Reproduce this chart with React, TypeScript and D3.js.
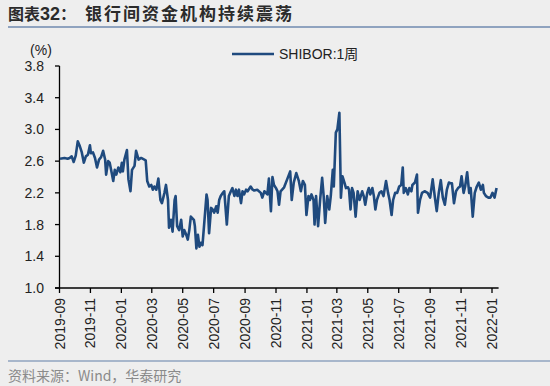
import React from "react";
import * as d3 from "d3";

const TITLE_A = "图表32：";
const TITLE_B = "银行间资金机构持续震荡";
const SOURCE = "资料来源：Wind，华泰研究";
const SERIES_NAME = "SHIBOR:1周";
const UNIT = "(%)";
const Y_TICKS = [1.0, 1.4, 1.8, 2.2, 2.6, 3.0, 3.4, 3.8];

const dates: string[] = [
  "2019-09-02","2019-09-11","2019-09-17","2019-09-21","2019-09-25","2019-09-29","2019-10-03","2019-10-07","2019-10-11","2019-10-15",
  "2019-10-19","2019-10-23","2019-10-27","2019-10-31","2019-11-02","2019-11-06","2019-11-10","2019-11-14","2019-11-18","2019-11-22",
  "2019-11-26","2019-11-30","2019-12-02","2019-12-06","2019-12-09","2019-12-13","2019-12-16","2019-12-19","2019-12-22","2019-12-26",
  "2019-12-30","2020-01-02","2020-01-04","2020-01-07","2020-01-12","2020-01-15","2020-01-19","2020-01-22","2020-01-27","2020-01-30",
  "2020-02-04","2020-02-09","2020-02-18","2020-02-21","2020-02-25","2020-02-29","2020-03-03","2020-03-06","2020-03-10","2020-03-14",
  "2020-03-18","2020-03-21","2020-03-26","2020-03-29","2020-04-02","2020-04-04","2020-04-08","2020-04-11","2020-04-15","2020-04-17",
  "2020-04-20","2020-04-24","2020-04-28","2020-05-01","2020-05-04","2020-05-08","2020-05-11","2020-05-14","2020-05-17","2020-05-23",
  "2020-05-25","2020-05-28","2020-05-31","2020-06-03","2020-06-06","2020-06-09","2020-06-13","2020-06-17","2020-06-19","2020-06-22",
  "2020-06-26","2020-06-29","2020-07-02","2020-07-06","2020-07-09","2020-07-12","2020-07-15","2020-07-19","2020-07-22","2020-07-27",
  "2020-07-31","2020-08-04","2020-08-07","2020-08-11","2020-08-14","2020-08-17","2020-08-20","2020-08-24","2020-08-27","2020-08-30",
  "2020-09-03","2020-09-06","2020-09-12","2020-09-16","2020-09-19","2020-09-25","2020-10-02","2020-10-05","2020-10-09","2020-10-15",
  "2020-10-18","2020-10-22","2020-10-25","2020-10-28","2020-11-01","2020-11-04","2020-11-07","2020-11-10","2020-11-17","2020-11-23",
  "2020-11-29","2020-12-02","2020-12-06","2020-12-11","2020-12-16","2020-12-20","2020-12-24","2020-12-28","2020-12-31","2021-01-04",
  "2021-01-07","2021-01-10","2021-01-14","2021-01-16","2021-01-19","2021-01-23","2021-01-27","2021-01-31","2021-02-03","2021-02-06",
  "2021-02-10","2021-02-14","2021-02-17","2021-02-21","2021-02-23","2021-02-27","2021-03-02","2021-03-06","2021-03-09","2021-03-12",
  "2021-03-16","2021-03-19","2021-03-23","2021-03-25","2021-03-28","2021-03-31","2021-04-03","2021-04-07","2021-04-11","2021-04-15",
  "2021-04-20","2021-04-23","2021-04-26","2021-04-30","2021-05-03","2021-05-06","2021-05-10","2021-05-13","2021-05-16","2021-05-19",
  "2021-05-24","2021-05-28","2021-06-01","2021-06-06","2021-06-10","2021-06-13","2021-06-17","2021-06-20","2021-06-24","2021-06-28",
  "2021-07-02","2021-07-06","2021-07-09","2021-07-11","2021-07-15","2021-07-19","2021-07-22","2021-07-26","2021-07-28","2021-08-02",
  "2021-08-06","2021-08-08","2021-08-12","2021-08-16","2021-08-21","2021-08-27","2021-09-01","2021-09-06","2021-09-10","2021-09-14",
  "2021-09-18","2021-09-22","2021-09-26","2021-09-30","2021-10-04","2021-10-08","2021-10-12","2021-10-14","2021-10-18","2021-10-22",
  "2021-10-26","2021-10-30","2021-11-02","2021-11-06","2021-11-09","2021-11-13","2021-11-17","2021-11-20","2021-11-24","2021-11-28",
  "2021-12-02","2021-12-06","2021-12-10","2021-12-14","2021-12-16","2021-12-20","2021-12-25","2021-12-29","2022-01-02","2022-01-06",
  "2022-01-10"
];

const shibor1w: number[] = [
  2.63,2.64,2.63,2.64,2.66,2.59,2.67,2.85,2.79,2.71,
  2.58,2.66,2.68,2.80,2.70,2.71,2.64,2.52,2.62,2.65,
  2.73,2.62,2.43,2.60,2.58,2.45,2.35,2.49,2.43,2.52,
  2.46,2.58,2.47,2.62,2.74,2.37,2.22,2.49,2.54,2.73,
  2.62,2.64,2.61,2.35,2.28,2.30,2.24,2.28,2.24,2.38,
  2.11,2.07,2.20,2.30,2.11,1.76,1.86,1.71,2.11,2.16,
  1.78,1.73,1.86,1.65,1.73,1.67,1.61,1.73,1.90,1.86,
  1.78,1.50,1.67,1.52,1.57,1.54,1.86,2.18,2.11,1.69,
  2.01,1.99,1.95,2.03,1.95,2.11,2.16,2.20,2.22,1.80,
  2.16,2.22,2.26,2.16,2.24,2.16,2.24,2.07,2.22,2.18,
  2.24,2.22,2.28,2.24,2.23,2.24,2.20,2.14,2.22,2.18,
  2.38,1.97,2.40,2.30,2.26,2.22,2.05,2.22,2.27,2.37,
  2.47,2.11,2.33,2.45,2.35,2.22,2.35,2.30,1.92,2.16,
  2.11,2.18,2.11,1.80,2.16,1.78,2.11,2.39,2.16,1.82,
  2.16,1.99,2.16,2.49,2.28,2.96,3.00,3.21,2.14,2.41,
  2.33,2.26,2.27,2.24,1.99,2.26,2.20,1.90,2.22,2.11,
  2.22,2.16,2.05,2.20,2.26,2.18,2.26,2.16,1.99,2.11,
  2.20,2.22,2.16,2.35,2.20,2.11,1.92,2.11,2.20,2.20,
  2.28,2.30,2.52,2.20,2.26,2.18,2.26,2.22,2.30,2.33,
  2.43,1.95,2.11,2.20,2.22,2.20,2.14,2.37,2.16,1.97,
  2.20,2.36,2.14,2.05,2.24,2.33,2.32,2.32,2.07,2.22,
  2.26,2.28,2.41,2.20,2.28,2.46,2.20,2.26,1.90,2.20,
  2.28,2.33,2.24,2.30,2.20,2.16,2.14,2.14,2.20,2.14,
  2.26
];

const W = 550;
const H = 386;
const FONT = "'Liberation Sans', Arial, 'Noto Sans CJK SC', sans-serif";
const CJK = "'Noto Sans CJK SC', 'Liberation Sans', sans-serif";
const LINE_COLOR = "#1f4a7e";
const RULE_COLOR = "#8fa3bf";

export default function App() {
  const parse = d3.timeParse("%Y-%m-%d");
  const points = dates.map((d, i) => ({ date: parse(d) as Date, value: shibor1w[i] }));

  const x = d3
    .scaleTime()
    .domain([new Date(2019, 8, 1), new Date(2022, 0, 1)])
    .range([59.5, 492]);
  const y = d3.scaleLinear().domain([1.0, 3.8]).range([288, 66]);

  const xTicks = d3.timeMonth.every(2)!.range(new Date(2019, 8, 1), new Date(2022, 0, 2));
  const fmt = d3.timeFormat("%Y-%m");
  const line = d3
    .line<{ date: Date; value: number }>()
    .x((d) => x(d.date))
    .y((d) => y(d.value));

  const x0 = x.range()[0];
  const xEnd = x(new Date(2022, 0, 14));
  const yBase = y(1.0);

  return (
    <svg
      width={W}
      height={H}
      style={{ position: "absolute", left: 0, top: 0, background: "#eeeeee" }}
      fontFamily={FONT}
    >
      <rect x={0} y={0} width={W} height={H} fill="#eeeeee" />
      {/* title */}
      <text x={8} y={20} fontFamily={CJK} fontSize={16} fontWeight="bold" fill="#2b2b2b">
        <tspan>图表</tspan>
        <tspan fontFamily={FONT} fontSize={18}>32</tspan>
        <tspan>：</tspan>
      </text>
      <text x={85} y={20} fontFamily={CJK} fontSize={17} fontWeight="bold" fill="#2b2b2b" letterSpacing={2}>
        {TITLE_B}
      </text>
      <line x1={8} x2={W} y1={27} y2={27} stroke={RULE_COLOR} strokeWidth={2} />

      {/* legend */}
      <line x1={232} x2={274} y1={54} y2={54} stroke={LINE_COLOR} strokeWidth={2.5} />
      <text x={279} y={59} fontSize={14} fill="#222">
        {SERIES_NAME}
      </text>

      {/* unit */}
      <text x={41} y={55} fontSize={14} textAnchor="middle" fill="#222">
        {UNIT}
      </text>

      {/* y axis */}
      <line x1={x0} x2={x0} y1={y(3.8)} y2={yBase} stroke="#000" strokeWidth={1.3} />
      {Y_TICKS.map((t) => (
        <g key={t}>
          <line x1={x0 - 4.5} x2={x0} y1={y(t)} y2={y(t)} stroke="#000" strokeWidth={1.3} />
          <text x={44} y={y(t)} dy="0.36em" textAnchor="end" fontSize={14} fill="#222">
            {t.toFixed(1)}
          </text>
        </g>
      ))}

      {/* x axis */}
      <line x1={x0 - 4.5} x2={xEnd} y1={yBase} y2={yBase} stroke="#000" strokeWidth={1.3} />
      {xTicks.map((t) => (
        <g key={t.getTime()}>
          <line x1={x(t)} x2={x(t)} y1={yBase} y2={yBase + 5} stroke="#000" strokeWidth={1.3} />
          <text
            transform={`translate(${x(t)},${yBase + 10}) rotate(-90)`}
            dy="0.36em"
            textAnchor="end"
            fontSize={14}
            fill="#222"
          >
            {fmt(t)}
          </text>
        </g>
      ))}

      {/* series */}
      <path d={line(points) || ""} fill="none" stroke={LINE_COLOR} strokeWidth={2.6} strokeLinejoin="round" />

      {/* footer */}
      <line x1={8} x2={W} y1={361} y2={361} stroke={RULE_COLOR} strokeWidth={1.5} />
      <text x={8} y={381} fontFamily={CJK} fontSize={14} fill="#8a8a8a">
        {SOURCE}
      </text>
    </svg>
  );
}
